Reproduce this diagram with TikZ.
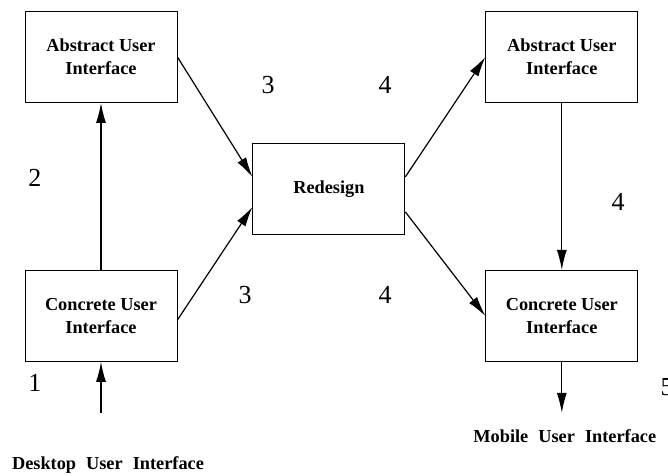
\documentclass[tikz,border=0pt]{standalone}
\usepackage{fontspec}
\setmainfont{Liberation Serif}
\usetikzlibrary{positioning,arrows.meta}

\tikzset{
  box/.style={draw, line width=0.9pt, minimum width=152pt, minimum height=91pt,
    align=center, font=\fontsize{18.3}{23}\selectfont\bfseries},
  arr/.style={line width=1.2pt, -{Latex[length=20pt,width=10pt]}},
  stage/.style={font=\fontsize{26}{26}\selectfont},
  endtext/.style={font=\fontsize{18.3}{23}\selectfont\bfseries}
}
\newcommand{\wsp}{\hspace{0.55em}}

\begin{document}
\begin{tikzpicture}
\useasboundingbox (-101pt,-418pt) rectangle (567pt,57pt);

\node[box] (aL) {Abstract User\\Interface};
\node[box, below=167pt of aL] (cL) {Concrete User\\Interface};
\node[box, below right=40pt and 75pt of aL.south east] (rd) {Redesign};
\node[box, above right=40pt and 80pt of rd.north east] (aR) {Abstract User\\Interface};
\node[box, below=167pt of aR] (cR) {Concrete User\\Interface};

% free ends of the input and output arrows
\coordinate[below=51pt of cL] (dt);
\coordinate[below=51pt of cR] (mt);

\node[endtext] (desk) at (7pt,-408pt) {Desktop\wsp User\wsp Interface};
\node[endtext, below=64pt of cR, xshift=3pt] (mob) {Mobile\wsp User\wsp Interface};

% step numbers
\node[stage] (n1) at (-66pt,-326pt) {1};
\node[stage] (n2) at (-66pt,-121pt) {2};
\node[stage] (n3a) at (167pt,-28pt) {3};
\node[stage] (n3b) at (144pt,-238pt) {3};
\node[stage] (n4a) at (284pt,-28pt) {4};
\node[stage] (n4b) at (284pt,-238pt) {4};
\node[stage] (n4c) at (517pt,-145pt) {4};
\node[stage] (n5) at (566pt,-330pt) {5};

\draw[arr] (dt) -- (cL);
\draw[arr] (cL) -- (aL);
\draw[arr] (aL.east) -- ([yshift=12pt]rd.west);
\draw[arr] ([yshift=-4pt]cL.east) -- ([yshift=-18pt]rd.west);
\draw[arr] ([yshift=12pt]rd.east) -- (aR.west);
\draw[arr] ([yshift=-23pt]rd.east) -- (cR.west);
\draw[arr] (aR) -- (cR);
\draw[arr] (cR) -- (mt);
\end{tikzpicture}
\end{document}
